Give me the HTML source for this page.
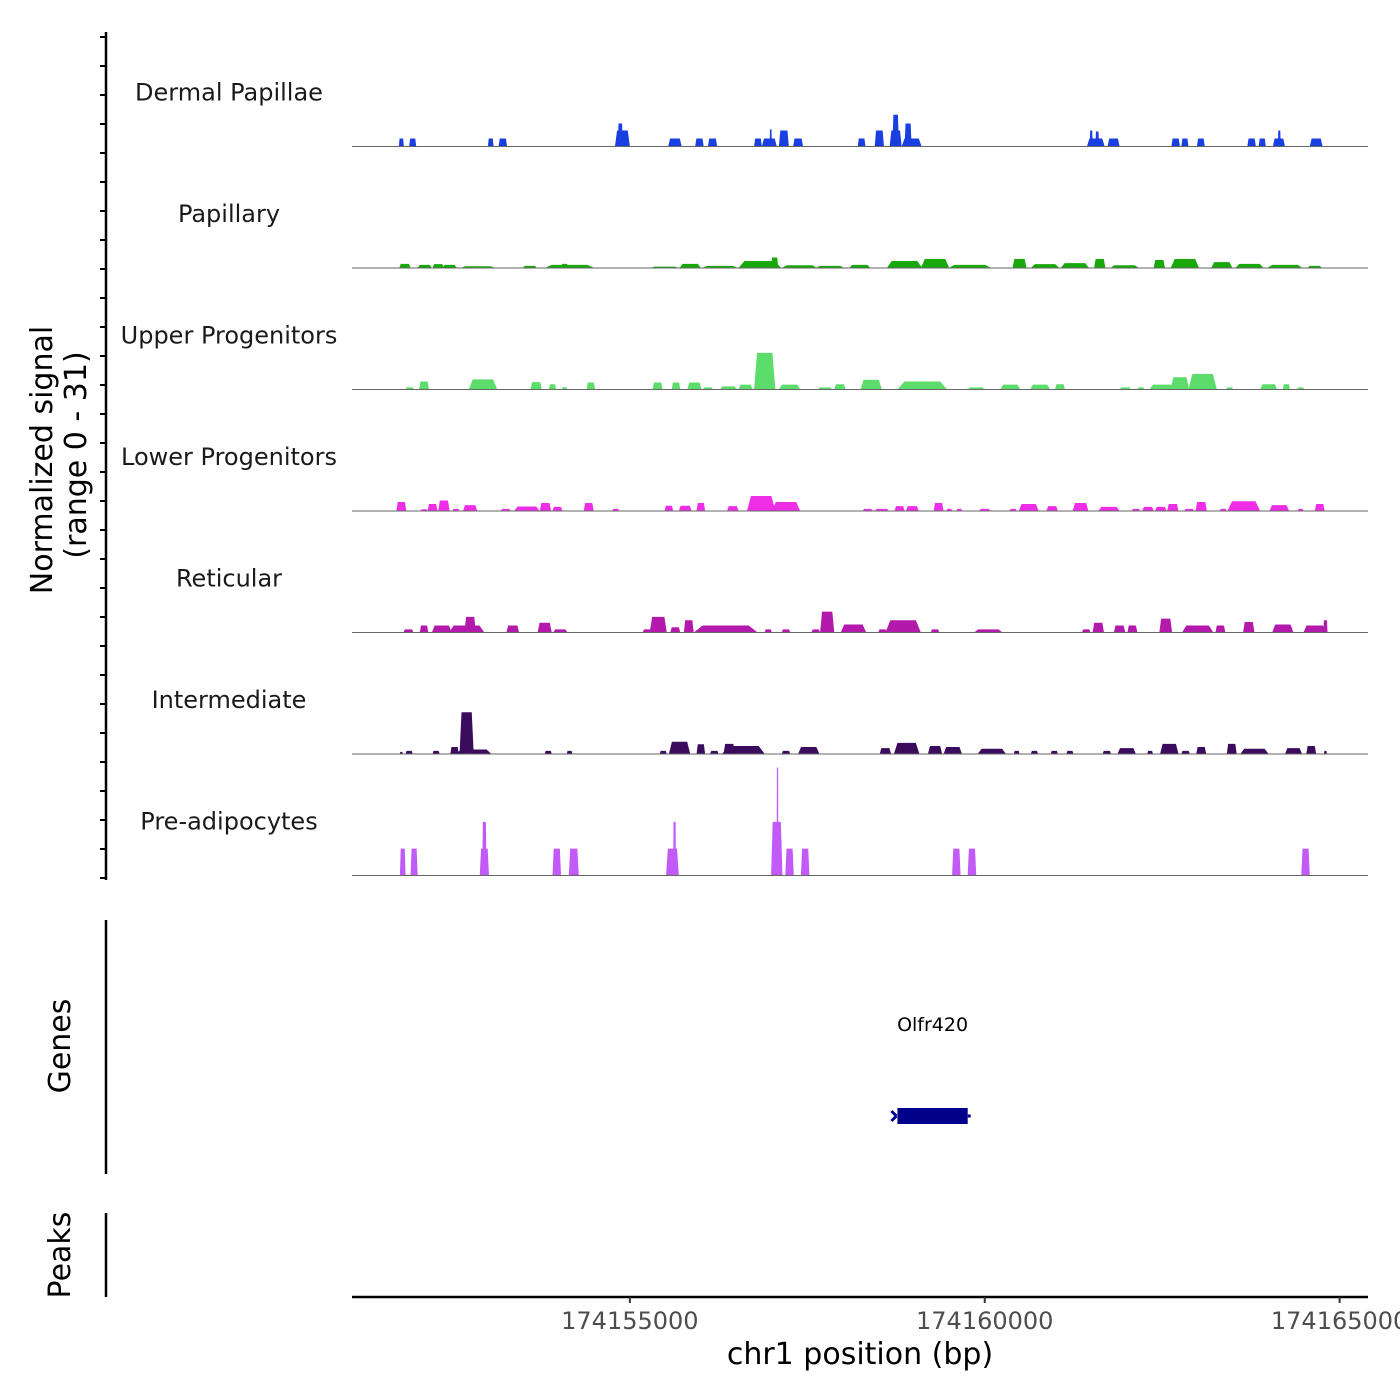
<!DOCTYPE html>
<html><head><meta charset="utf-8"><style>
html,body{margin:0;padding:0;background:#fff}
svg{display:block;font-family:"DejaVu Sans","Liberation Sans",sans-serif}
</style></head><body>
<svg id="chart" width="1400" height="1400" viewBox="0 0 1400 1400" xmlns="http://www.w3.org/2000/svg">
<g id="yaxis"></g>
<text transform="translate(52,460) rotate(-90)" text-anchor="middle" font-size="30" fill="#000">Normalized signal</text>
<text transform="translate(86,455) rotate(-90)" text-anchor="middle" font-size="30" fill="#000">(range 0 - 31)</text>
<g id="tracks"></g>
<line x1="106" y1="920" x2="106" y2="1174" stroke="#000" stroke-width="2.5"/>
<text transform="translate(70,1046) rotate(-90)" text-anchor="middle" font-size="30">Genes</text>
<g id="genes"></g>
<line x1="106" y1="1213" x2="106" y2="1297" stroke="#000" stroke-width="2.5"/>
<text transform="translate(70,1255) rotate(-90)" text-anchor="middle" font-size="30">Peaks</text>
<g id="xaxis"></g>
<text x="860" y="1364" text-anchor="middle" font-size="30">chr1 position (bp)</text>
</svg>
<script>
// genomic positions in kb offset from 174150000
const trackNames = ["Dermal Papillae","Papillary","Upper Progenitors","Lower Progenitors","Reticular","Intermediate","Pre-adipocytes"];
const trackColors = ["#1a3fe0","#17a80a","#5cdc6a","#ee2ee6","#b31aac","#3b0b5e","#c25af7"];
// each hill: [centerKb, halfWidthKb, signal]
const dermalPapillae = [[1.78,.035,2.3],[1.94,.05,2.3],[3.04,.04,2.3],[3.21,.06,2.3],[4.895,.105,4.6],[4.865,.035,6.6],[5.635,.095,2.3],[5.98,.06,2.3],[6.165,.065,2.3],[6.805,.055,2.3],[6.965,.105,2.3],[6.985,.015,4.9],[7.17,.07,4.6],[7.37,.07,2.3],[8.265,.055,2.3],[8.515,.065,4.6],[8.745,.085,4.6],[8.745,.045,9.1],[8.97,.14,2.3],[8.92,.05,6.6],[11.565,.125,2.3],[11.5,.02,4.6],[11.585,.025,4.3],[11.815,.085,2.3],[12.69,.06,2.3],[12.82,.05,2.3],[13.045,.055,2.3],[13.76,.06,2.3],[13.91,.05,2.3],[14.145,.085,2.3],[14.15,.02,4.6],[14.67,.09,2.3]];
const papillary = [[1.83,.08,1.2],[2.11,.1,.9],[2.30,.08,1.1],[2.46,.1,.9],[2.86,.25,.5],[3.59,.1,.6],[4.15,.35,.9],[4.08,.05,1.2],[5.49,.2,.4],[5.85,.15,1.2],[6.27,.25,.6],[6.83,.3,2.0],[7.04,.05,3.0],[7.39,.25,.8],[7.82,.2,.6],[8.24,.15,.9],[8.87,.25,2.0],[9.30,.2,2.6],[9.79,.3,.9],[10.49,.1,2.6],[10.85,.2,1.1],[11.27,.2,1.4],[11.62,.08,2.6],[11.97,.2,.8],[12.46,.08,2.3],[12.82,.2,2.6],[13.34,.15,1.7],[13.73,.2,1.2],[14.23,.25,.9],[14.65,.1,.6]];
const upperProgenitors = [[1.9,.06,.6],[2.1,.07,2.3],[2.93,.2,2.9],[3.68,.08,2.1],[3.91,.05,1.5],[4.08,.04,.6],[4.45,.06,2],[5.39,.07,2],[5.65,.06,2],[5.91,.1,2],[6.1,.07,.6],[6.39,.12,.9],[6.63,.1,1.4],[6.9,.15,10.5],[7.25,.15,1.4],[7.75,.1,.6],[7.96,.08,1.5],[8.4,.15,2.8],[9.12,.35,2.3],[9.88,.12,.6],[10.36,.14,1.4],[10.78,.14,1.4],[11.06,.07,1.5],[11.98,.08,.6],[12.2,.05,.6],[12.5,.18,1.4],[12.75,.13,3.5],[13.07,.2,4.5],[13.45,.05,.6],[14.0,.12,1.5],[14.25,.05,1.5],[14.45,.05,.6]];
const lowerProgenitors = [[1.78,.07,2.6],[2.1,.05,.5],[2.22,.07,2],[2.38,.08,3],[2.55,.05,.6],[2.75,.1,1.7],[3.25,.07,.6],[3.55,.18,1.3],[3.81,.08,2.3],[3.98,.07,1.2],[4.42,.07,2.3],[4.8,.05,.6],[5.55,.06,1.5],[5.78,.09,1.5],[6.0,.06,2.3],[6.45,.08,1.4],[6.85,.2,4.3],[7.2,.2,2.6],[8.35,.07,.6],[8.55,.1,.6],[8.8,.07,1.4],[8.98,.09,1.4],[9.35,.07,2.3],[9.5,.04,.6],[9.64,.04,.6],[10.0,.08,.6],[10.4,.05,.6],[10.62,.14,2],[10.95,.08,1.4],[11.35,.11,2.3],[11.75,.15,1.2],[12.13,.06,.6],[12.3,.08,1.2],[12.48,.08,1.2],[12.65,.08,2],[12.88,.07,.6],[13.05,.08,2.6],[13.36,.05,.6],[13.65,.23,2.8],[14.15,.14,1.7],[14.45,.04,.6],[14.72,.07,2]];
const reticular = [[1.88,.07,.9],[2.1,.06,2],[2.35,.14,2],[2.7,.25,2],[2.75,.08,4.5],[3.35,.09,2],[3.8,.1,2.8],[4.02,.1,.9],[5.25,.07,.9],[5.4,.12,4.5],[5.64,.07,1.5],[5.83,.07,3.5],[6.35,.45,2],[6.95,.05,.9],[7.2,.06,.9],[7.62,.06,.9],[7.78,.1,6],[8.15,.18,2.3],[8.56,.06,.9],[8.85,.25,3.5],[9.3,.06,.9],[10.05,.2,.9],[11.43,.06,.9],[11.6,.08,2.8],[11.9,.08,2],[12.08,.07,2],[12.55,.09,4],[13.0,.22,2],[13.32,.07,2],[13.72,.08,3],[14.2,.15,2.3],[14.65,.16,2],[14.8,.03,3.5]];
const intermediate = [[1.78,.02,.6],[1.89,.05,.9],[2.27,.05,.9],[2.53,.06,2],[2.8,.25,1.3],[2.7,.1,12],[3.85,.05,.9],[4.15,.04,.9],[5.47,.05,.9],[5.7,.15,3.5],[6.0,.06,2.8],[6.19,.06,.9],[6.6,.3,2.3],[6.4,.08,2.9],[7.2,.06,.9],[7.52,.15,2],[8.6,.08,1.7],[8.9,.18,3.2],[9.3,.1,2.3],[9.55,.13,2],[10.1,.2,1.5],[10.45,.04,.9],[10.7,.05,.9],[10.98,.05,.9],[11.2,.05,.9],[11.72,.06,.9],[12.0,.13,1.7],[12.33,.04,.9],[12.6,.13,2.9],[12.83,.06,.9],[13.05,.07,2],[13.48,.07,2.9],[13.8,.2,1.5],[14.35,.12,1.7],[14.6,.07,2.3],[14.8,.02,.9]];
const preAdipocytes = [[1.8,.04,7.7],[1.96,.05,7.7],[2.95,.065,7.7],[2.95,.03,15.4],[3.97,.06,7.7],[4.21,.07,7.7],[5.6,.09,7.7],[5.63,.02,15.4],[7.07,.08,15.4],[7.08,.012,31],[7.25,.06,7.7],[7.47,.06,7.7],[9.6,.06,7.7],[9.82,.06,7.7],[14.52,.06,7.7]];
const trackData = [dermalPapillae,papillary,upperProgenitors,lowerProgenitors,reticular,intermediate,preAdipocytes];
const xTicks = [5,10,15];
const xTickLabels = ["174155000","174160000","174165000"];
const geneStart = 8.77, geneEnd = 9.76, geneName = "Olfr420";

const NS="http://www.w3.org/2000/svg";
const X0=352,X1=1368,K0=1.085,K1=15.4;
function xs(k){return X0+(k-K0)/(K1-K0)*(X1-X0);}
const yMax=31, trackH=121.5, firstBase=146.5, ampPx=108;
function ys(v,base){return base-v/yMax*ampPx;}
function mk(tag,attrs,parent){const e=document.createElementNS(NS,tag);for(const k in attrs)e.setAttribute(k,attrs[k]);parent.appendChild(e);return e;}

const yax=document.getElementById('yaxis');
const yl=mk('line',{x1:106,y1:32,x2:106,y2:880,stroke:'#000','stroke-width':2.5},yax);


for(let t=0;t<=29;t++){
  const y=37+t*29;
  const tk=mk('line',{x1:100,y1:y,x2:106,y2:y,stroke:'#000','stroke-width':2},yax);
  
  
}

const tg=document.getElementById('tracks');
trackNames.forEach((name,i)=>{
  const base=firstBase+i*trackH;
  const g=mk('g',{},tg);
  
  
  const lab=mk('text',{x:229,y:base-46,'text-anchor':'middle','font-size':24,fill:'#1a1a1a'},g);
  lab.textContent=name;
  
  
  trackData[i].forEach(h=>{
    const [c,hw,v]=h;
    const xa=xs(c-hw),xb=xs(c+hw),ta=xs(c-hw*0.72),tb=xs(c+hw*0.72),yt=ys(v,base);
    const p=mk('polygon',{points:`${xa},${base} ${ta},${yt} ${tb},${yt} ${xb},${base}`,fill:trackColors[i]},g);
    
    
  });
  const bl=mk('line',{x1:X0,y1:base,x2:X1,y2:base,stroke:'#666','stroke-width':1},g);
  
  
});

const gg=document.getElementById('genes');
const gl=mk('text',{x:(xs(geneStart)+xs(geneEnd))/2,y:1031,'text-anchor':'middle','font-size':19,fill:'#000'},gg);
gl.textContent=geneName;


const gr=mk('rect',{x:xs(geneStart),y:1108,width:xs(geneEnd)-xs(geneStart),height:16,fill:'#00008b'},gg);


const ga=mk('path',{d:`M${xs(geneStart)-1},1116 l-5,-5 M${xs(geneStart)-1},1116 l-5,5 M${xs(geneEnd)},1116 l3,0`,stroke:'#00008b','stroke-width':3,fill:'none'},gg);



const xa=document.getElementById('xaxis');
const xl=mk('line',{x1:X0,y1:1297,x2:X1,y2:1297,stroke:'#000','stroke-width':2.5},xa);


xTicks.forEach((t,i)=>{
  const x=xs(t);
  const tk=mk('line',{x1:x,y1:1297,x2:x,y2:1303,stroke:'#333','stroke-width':2},xa);
  
  
  const tl=mk('text',{x:x,y:1329,'text-anchor':'middle','font-size':24,fill:'#4d4d4d'},xa);
  tl.textContent=xTickLabels[i];
  
  
});
</script>
</body></html>
